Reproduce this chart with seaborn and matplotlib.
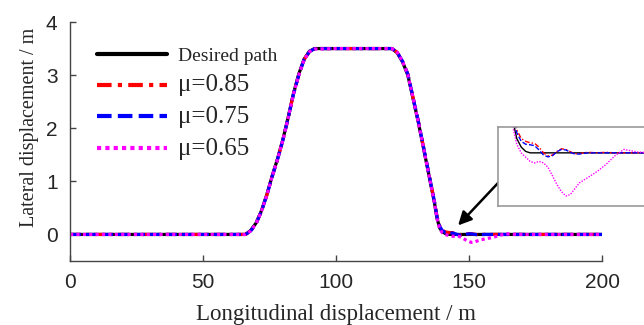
import matplotlib
matplotlib.use("Agg")
import matplotlib.pyplot as plt
import seaborn as sns
import numpy as np

# ---- data ----
x_m = [0, 60, 66, 68, 70, 72, 74, 76, 78, 80, 82, 84, 86, 88, 90, 92, 100, 110, 119,
       121, 123, 125, 127, 129, 131, 133, 135, 137, 138, 139, 140, 141, 142, 143, 144,
       145, 146, 147, 148, 149, 150, 151, 152, 153, 154, 155, 156, 158, 160, 162, 164, 167,
       170, 180, 200]

y_desired = [0, 0, 0, 0.08, 0.22, 0.45, 0.75, 1.1, 1.42, 1.78, 2.2, 2.65, 3.02, 3.3, 3.45, 3.5,
             3.5, 3.5, 3.5,
             3.5, 3.42, 3.25, 3.0, 2.55, 2.1, 1.6, 1.1, 0.6, 0.3, 0.12, 0.05, 0.02, 0.005, 0, 0,
             0, 0, 0, 0, 0, 0, 0, 0, 0, 0, 0, 0, 0, 0, 0, 0, 0,
             0, 0, 0]

y_mu085 = [0, 0, 0, 0.07, 0.21, 0.44, 0.74, 1.09, 1.41, 1.77, 2.19, 2.64, 3.0, 3.29, 3.44, 3.5,
           3.5, 3.5, 3.5,
           3.5, 3.43, 3.26, 3.02, 2.57, 2.12, 1.62, 1.12, 0.62, 0.33, 0.16, 0.08, 0.05, 0.04, 0.035, 0.033,
           0.02, 0.0, -0.01, -0.008, 0.005, 0.014, 0.012, 0.004, -0.003, -0.003, 0, 0.002, 0, 0.002, 0, 0, 0,
           0, 0, 0]

y_mu075 = [0, 0, 0, 0.07, 0.21, 0.44, 0.74, 1.09, 1.41, 1.77, 2.19, 2.64, 3.0, 3.29, 3.44, 3.5,
           3.5, 3.5, 3.5,
           3.5, 3.43, 3.26, 3.02, 2.57, 2.12, 1.62, 1.12, 0.62, 0.32, 0.15, 0.07, 0.04, 0.03, 0.028, 0.025,
           0.01, -0.008, -0.014, -0.01, 0.004, 0.012, 0.01, 0.002, -0.004, -0.004, -0.002, 0, 0, 0, 0, 0, 0,
           0, 0, 0]

y_mu065 = [0, 0, 0, 0.07, 0.21, 0.44, 0.74, 1.09, 1.41, 1.77, 2.19, 2.64, 3.0, 3.29, 3.44, 3.49,
           3.5, 3.5, 3.5,
           3.5, 3.43, 3.26, 3.01, 2.56, 2.1, 1.6, 1.1, 0.6, 0.29, 0.1, 0.03, 0.0, -0.015, -0.03, -0.035,
           -0.03, -0.035, -0.05, -0.08, -0.11, -0.135, -0.15, -0.145, -0.125, -0.105, -0.095, -0.085, -0.065, -0.04, -0.01, 0.012, 0.003,
           0, 0, 0]

labels = ["Desired path", "\u03bc=0.85", "\u03bc=0.75", "\u03bc=0.65"]
x_ticks = [0, 50, 100, 150, 200]
y_ticks = [0, 1, 2, 3, 4]

series = [y_desired, y_mu085, y_mu075, y_mu065]
colors = ["black", "red", "blue", "magenta"]
dashes = [None, (3.5, 1.5, 1, 1.5), (3.5, 1.5), (1, 1)]

sns.set_style("ticks")
plt.rcParams["font.family"] = ["Liberation Sans", "DejaVu Sans"]

fig = plt.figure(figsize=(6.44, 3.25), dpi=100)
ax = fig.add_axes([70 / 644, 1 - 261 / 325, 532 / 644, 239 / 325])


def draw(a, lw):
    for y, c, d, lab in zip(series, colors, dashes, labels):
        sns.lineplot(x=x_m, y=y, ax=a, color=c, lw=lw, label=lab, legend=False)
        ln = a.lines[-1]
        if d is not None:
            ln.set_dashes(d)


draw(ax, 2.3)
ax.set_xlim(0, 200)
ax.set_ylim(-0.5, 4)
ax.set_xticks(x_ticks)
ax.set_yticks(y_ticks)
ax.tick_params(direction="in", length=4, width=1, color="#444444", labelsize=15, pad=9)
for s in ["left", "bottom"]:
    ax.spines[s].set_color("#444444")
    ax.spines[s].set_linewidth(1)
sns.despine(ax=ax)
ax.set_xlabel("Longitudinal displacement / m", family=["Liberation Serif"], fontsize=16.5, labelpad=8)
ax.set_ylabel("Lateral displacement / m", family=["Liberation Serif"], fontsize=14.5)
ax.yaxis.set_label_coords(-0.058, 0.56)

leg = ax.legend(loc="upper left", bbox_to_anchor=(0.05, 0.895), frameon=False,
                borderaxespad=0, borderpad=0, handlelength=3.6, handletextpad=0.6,
                labelspacing=0.5, prop={"family": "Liberation Serif", "size": 14})
for i, t in enumerate(leg.get_texts()):
    if i > 0:
        t.set_fontsize(18)
for h in leg.get_lines():
    h.set_linewidth(3)

# inset
ins = fig.add_axes([498 / 644, 1 - 206 / 325, 175 / 644, 79 / 325])
draw(ins, 1.0)
ins.set_xlim(135.8, 175)
ins.set_ylim(-0.185, 0.09)
ins.set_xticks([])
ins.set_yticks([])
ins.set_xlabel("")
ins.set_ylabel("")
for s in ins.spines.values():
    s.set_color("#999999")
    s.set_linewidth(1.2)

ax.annotate("", xy=(145.9, 0.17), xycoords="data",
            xytext=(498, 325 - 183), textcoords="figure pixels",
            arrowprops=dict(arrowstyle="-|>,head_length=0.8,head_width=0.4",
                            color="black", lw=1.8, shrinkA=0, shrinkB=0))

fig.savefig("out.png", dpi=100)
